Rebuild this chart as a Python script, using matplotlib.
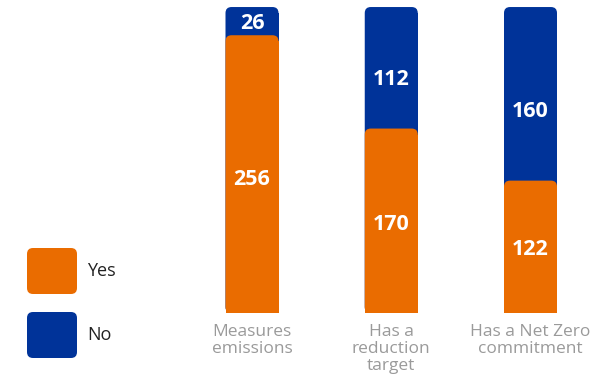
import matplotlib
matplotlib.use("Agg")
import matplotlib.pyplot as plt
from matplotlib.patches import FancyBboxPatch, Rectangle

categories = ["Measures\nemissions", "Has a\nreduction\ntarget", "Has a Net Zero\ncommitment"]
yes_vals = [256, 170, 122]
no_vals = [26, 112, 160]
legend_labels = ["Yes", "No"]

ORANGE = "#EA6C00"
BLUE = "#003399"
GREY = "#9a9a9a"

plt.rcParams['font.family'] = ['Open Sans', 'DejaVu Sans']

W, H = 615, 380
fig = plt.figure(figsize=(W / 100, H / 100), dpi=100)
ax = fig.add_axes([0, 0, 1, 1])

x0_px, dx_px = 252, 139.25
base_px, s = 313, 1.085
ax.set_xlim(-x0_px / dx_px, (W - x0_px) / dx_px)
ax.set_ylim(-(H - base_px) / s, base_px / s)
ax.axis("off")

bw = 53 / dx_px
r_px = 6
rx = r_px / dx_px
ry = r_px / s
asp = ry / rx


def top_rounded_bar(xc, h, color, z):
    p = FancyBboxPatch((xc - bw / 2, 0), bw, h,
                       boxstyle=f"round,pad=0,rounding_size={rx}",
                       mutation_aspect=asp, fc=color, ec="none", lw=0, zorder=z)
    ax.add_patch(p)
    ax.add_patch(Rectangle((xc - bw / 2, 0), bw, max(h - ry, 0), fc=color,
                           ec="none", lw=0, zorder=z))


for i, (y, n) in enumerate(zip(yes_vals, no_vals)):
    top_rounded_bar(i, y + n, BLUE, 1)
    top_rounded_bar(i, y, ORANGE, 2)
    ax.text(i, y * 0.48, str(y), ha="center", va="center", color="white",
            fontsize=15.5, fontweight="bold", zorder=3)
    ax.text(i, y + n * 0.4, str(n), ha="center", va="center", color="white",
            fontsize=15.5, fontweight="bold", zorder=3)
    ax.text(i, -(324 - base_px) / s, categories[i], ha="center", va="top",
            color=GREY, fontsize=12.5, linespacing=1.08)

# legend
leg_colors = [ORANGE, BLUE]
leg_tops = [248, 312]
for lab, col, t in zip(legend_labels, leg_colors, leg_tops):
    bx, by, bwid, bh = 27, t, 50, 46
    p = FancyBboxPatch((bx / W, 1 - (by + bh) / H), bwid / W, bh / H,
                       boxstyle=f"round,pad=0,rounding_size={r_px / W}",
                       mutation_aspect=W / H, fc=col, ec="none", lw=0,
                       transform=fig.transFigure)
    fig.patches.append(p)
    fig.text(87 / W, 1 - (by + bh / 2) / H, lab, ha="left", va="center",
             color="#222222", fontsize=13)

fig.savefig("out.png", dpi=100)
